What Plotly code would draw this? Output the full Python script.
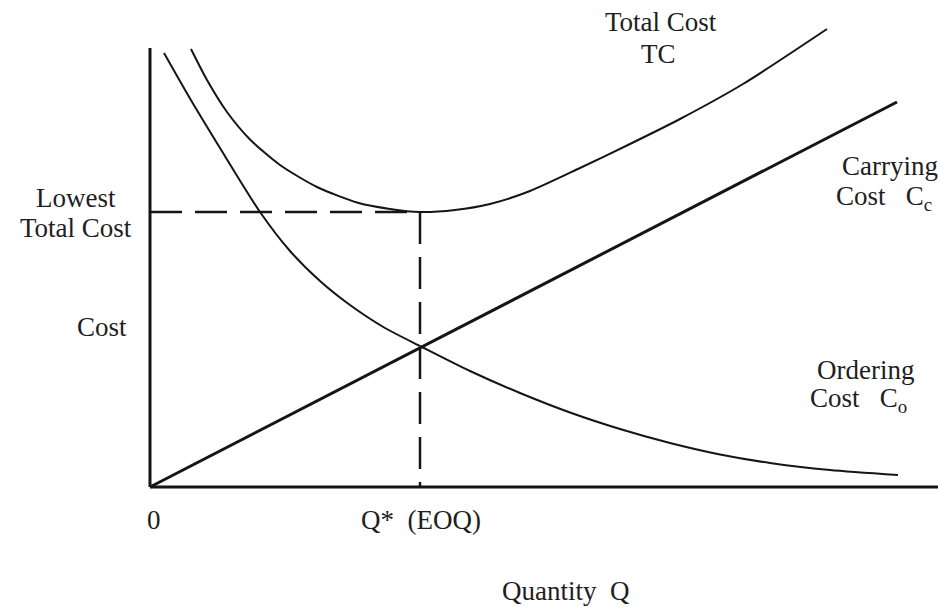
import plotly.graph_objects as go

# ---- data (Q in quantity units, cost in cost units) ----
carrying_q = [0.0, 74.7]
carrying_c = [0.0, 38.5]

ordering_q = [1.4, 4.0, 7.0, 11.0, 14.0, 17.0, 20.0, 23.5, 27.2, 32.0, 37.0, 42.0,
              47.0, 52.0, 57.0, 62.0, 68.0, 74.8]
ordering_c = [43.4, 38.85, 33.9, 27.5, 23.6, 20.6, 18.2, 15.9, 14.0, 11.6, 9.4, 7.45,
              5.8, 4.4, 3.25, 2.4, 1.7, 1.2]

total_q = [4.1, 5.7, 7.7, 10.0, 13.0, 16.7, 20.7, 24.0, 27.0, 30.5, 34.0,
           38.0, 43.0, 48.0, 53.0, 59.3, 67.7]
total_c = [43.8, 40.7, 37.5, 34.75, 32.2, 30.0, 28.45, 27.8, 27.5, 27.7, 28.3,
           29.6, 31.9, 34.3, 36.8, 40.3, 45.8]

q_star = 27.0
lowest_tc = 27.5
y_axis_top = 43.9

W, H = 938, 607
X_RANGE = [-15.0, 78.8]
Y_RANGE = [-12.0, 48.7]

FONT = "Liberation Serif"
TXT = "#1e1e1e"
INK = "#151515"

fig = go.Figure()
fig.add_trace(go.Scatter(x=carrying_q, y=carrying_c, mode="lines",
                         line=dict(color=INK, width=3), hoverinfo="skip"))
fig.add_trace(go.Scatter(x=ordering_q, y=ordering_c, mode="lines",
                         line=dict(color=INK, width=2, shape="spline", smoothing=0.7),
                         hoverinfo="skip"))
fig.add_trace(go.Scatter(x=total_q, y=total_c, mode="lines",
                         line=dict(color=INK, width=2, shape="spline", smoothing=0.7),
                         hoverinfo="skip"))

# axes
fig.add_shape(type="line", x0=0, x1=0, y0=0, y1=y_axis_top, xref="x", yref="y",
              line=dict(color=INK, width=3))
fig.add_shape(type="line", x0=0, x1=X_RANGE[1], y0=0, y1=0, xref="x", yref="y",
              line=dict(color=INK, width=3))
# dashed guides
fig.add_shape(type="line", x0=0, x1=q_star, y0=lowest_tc, y1=lowest_tc, xref="x", yref="y",
              line=dict(color=INK, width=2.5, dash="32px,13px"))
fig.add_shape(type="line", x0=q_star, x1=q_star, y0=lowest_tc, y1=0, xref="x", yref="y",
              line=dict(color=INK, width=2.5, dash="32px,13px"))


def px(xp, yp):
    return xp / W, 1 - yp / H


def label(text, xp, yp, anchor="center", size=27):
    x, y = px(xp, yp)
    fig.add_annotation(text=text, x=x, y=y, xref="paper", yref="paper",
                       xanchor=anchor, yanchor="middle", showarrow=False,
                       font=dict(family=FONT, size=size, color=TXT))


NB = "\u00a0"
label("Total Cost", 661, 22)
label("TC", 658, 54)
label("Carrying", 840, 166, "left")
label("Cost" + NB * 3 + "C<sub>c</sub>", 834, 198, "left")
label("Lowest", 76, 198)
label("Total Cost", 76, 228)
label("Cost", 102, 327)
label("Ordering", 815, 370, "left")
label("Cost" + NB * 3 + "C<sub>o</sub>", 808, 400, "left")
label("0", 154, 520)
label("Q*" + NB * 2 + "(EOQ)", 421, 520)
label("Quantity" + NB * 2 + "Q", 566, 591)

fig.update_layout(
    width=W, height=H, margin=dict(l=0, r=0, t=0, b=0),
    paper_bgcolor="white", plot_bgcolor="white", showlegend=False,
    xaxis=dict(range=X_RANGE, visible=False, fixedrange=True),
    yaxis=dict(range=Y_RANGE, visible=False, fixedrange=True),
)
fig.write_html("out.html", config={"displayModeBar": False},
               post_script="document.body.style.margin='0';document.body.style.padding='0';document.body.style.overflow='hidden';")
